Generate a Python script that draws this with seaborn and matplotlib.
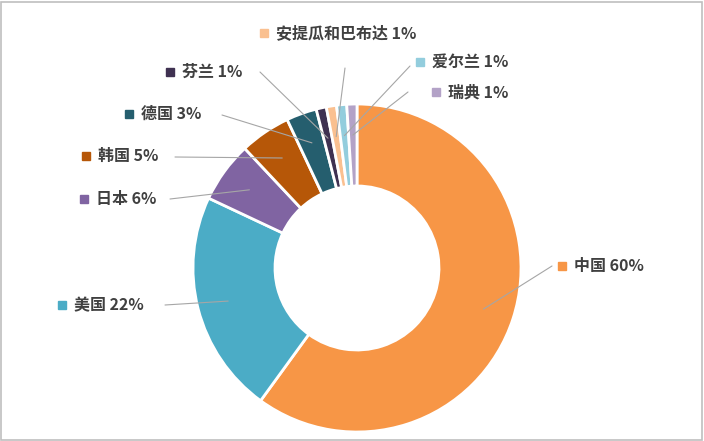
import matplotlib
matplotlib.use("Agg")
import matplotlib.pyplot as plt
import seaborn as sns
import numpy as np

sns.set_theme(style="white")
plt.rcParams["font.family"] = "Noto Sans CJK SC"

countries = ["中国", "美国", "日本", "韩国", "德国", "芬兰", "安提瓜和巴布达", "爱尔兰", "瑞典"]
shares = [60, 22, 6, 5, 3, 1, 1, 1, 1]
colors = ["#F79646", "#4BACC6", "#8064A2", "#B65708", "#255E6E", "#3F3151", "#FAC090", "#93CDDD", "#B3A2C7"]
label_pos = [(558, 266), (58, 305), (80, 199), (82, 156), (125, 114), (166, 72), (260, 33), (416, 62), (432, 92)]
line_end = [(552, 266), (165, 305), (170, 199), (175, 157), (222, 115), (260, 72), (345, 68), (410, 66), (408, 92)]

fig = plt.figure(figsize=(7.04, 4.41), dpi=100)
ax = fig.add_axes([0, 0, 1, 1])
cx, cy, R, r = 357, 268, 164, 82
wedges, _ = ax.pie(shares, colors=colors, startangle=-90, counterclock=True,
                   center=(cx, cy), radius=R, frame=True,
                   wedgeprops=dict(width=R - r, edgecolor="white", linewidth=2))
ax.set_xlim(0, 704)
ax.set_ylim(441, 0)
ax.set_aspect("equal")
ax.axis("off")

for w, name, s, c, (lx, ly), (ex, ey) in zip(wedges, countries, shares, colors, label_pos, line_end):
    ang = np.deg2rad((w.theta1 + w.theta2) / 2)
    rm = (R + r) / 2 + 10
    px, py = cx + rm * np.cos(ang), cy + rm * np.sin(ang)
    ax.plot([px, ex], [py, ey], color="#A6A6A6", lw=0.8)
    ax.add_patch(plt.Rectangle((lx, ly - 4), 8, 8, color=c))
    ax.text(lx + 16, ly, f"{name} {s}%", fontsize=11.5, fontweight="bold",
            color="#404040", va="center", ha="left")

fig.patches.append(plt.Rectangle((0.002, 0.003), 0.995, 0.993, transform=fig.transFigure,
                                 fill=False, edgecolor="#BFBFBF", lw=1.2))
fig.savefig("out.png", dpi=100)
